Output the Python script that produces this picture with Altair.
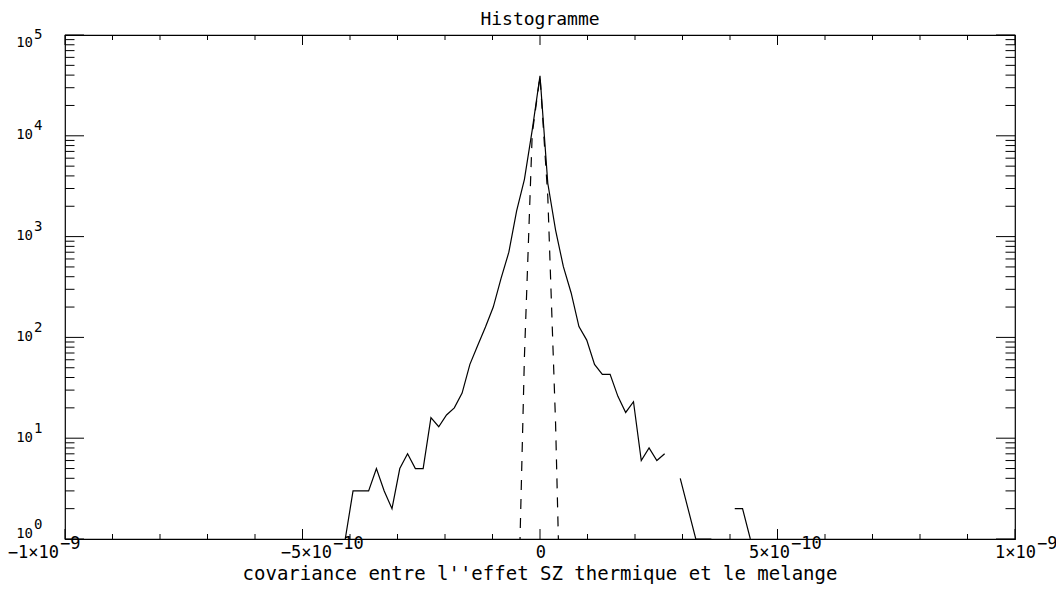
import altair as alt
import pandas as pd

# ---------------- data ----------------
# bin centres of the histogram, in units of 1e-10
bin_centres = [-4.100, -3.936, -3.772, -3.608, -3.444, -3.280, -3.116, -2.952, -2.788,
               -2.624, -2.460, -2.296, -2.132, -1.968, -1.804, -1.640, -1.476, -1.312,
               -1.148, -0.984, -0.820, -0.656, -0.492, -0.328, -0.164, 0.000, 0.164,
               0.328, 0.492, 0.656, 0.820, 0.984, 1.148, 1.312, 1.476, 1.640, 1.804,
               1.968, 2.132, 2.296, 2.460, 2.624, 2.788, 2.952, 3.116, 3.280, 3.444,
               3.608, 3.772, 3.936, 4.100, 4.264, 4.428]
# counts (None = empty bin, not drawable on a log axis)
counts = [1, 3, 3, 3, 5, 3, 2, 5, 7,
          5, 5, 16, 13, 17, 20, 28, 54, 83,
          127, 200, 385, 700, 1800, 3700, 11400, 39400, 3380,
          1160, 503, 276, 128, 94, 54, 43, 43, 26, 18,
          23, 6, 8, 6, 7, None, 4, 2, 1, 1,
          1, None, None, 2, 2, 1]

# narrow (dashed) reference distribution
model_x = [-0.492, -0.328, -0.164, 0.000, 0.164, 0.328, 0.492]
model_y = [0.04, 64, 10400, 39000, 2500, 14, 0.009]

# axis ticks and labels
x_major = [-10, -5, 0, 5, 10]
x_minor = [v for v in range(-9, 10) if v not in (-5, 0, 5)]
x_base = ["−1×10", "−5×10", "0", "5×10", "1×10"]
x_exp = ["−9", "−10", "", "−10", "−9"]
y_major = [1, 10, 100, 1000, 10000, 100000]
y_minor = [m * 10 ** e for e in range(5) for m in range(2, 10)]
y_exp = ["0", "1", "2", "3", "4", "5"]

TITLE = "Histogramme"
XTITLE = "covariance entre l''effet SZ thermique et le melange"

# ---------------- layout / style ----------------
W, H = 950, 504
FONT = "DejaVu Sans Mono"
LFS = 17
YFS = 14
x_label_dx = [-6, 29.5, 6, 12.5, 21]

xs = alt.Scale(domain=[-10, 10], nice=False, zero=False)
ys = alt.Scale(type="log", domain=[1, 100000], nice=False)

rows = []
seg = 0
for xv, c in zip(bin_centres, counts):
    if c is None:
        seg += 1
        continue
    rows.append({"x": xv, "n": c, "seg": seg})
hist = pd.DataFrame(rows)
model = pd.DataFrame({"x": model_x, "n": model_y})

solid = alt.Chart(hist).mark_line(color="black", strokeWidth=1.2, clip=True).encode(
    x=alt.X("x:Q", scale=xs, axis=None),
    y=alt.Y("n:Q", scale=ys, axis=None),
    detail="seg:N",
)
dashed = alt.Chart(model).mark_line(color="black", strokeWidth=1.2, strokeDash=[10, 9], clip=True).encode(
    x=alt.X("x:Q", scale=xs, axis=None),
    y=alt.Y("n:Q", scale=ys, axis=None),
)


def xticks(vals, y0, y1):
    return alt.Chart(pd.DataFrame({"v": vals})).mark_rule(color="black", strokeWidth=1).encode(
        x=alt.X("v:Q", scale=xs, axis=None), y=alt.value(y0), y2=alt.value(y1))


def yticks(vals, x0, x1):
    return alt.Chart(pd.DataFrame({"v": vals})).mark_rule(color="black", strokeWidth=1).encode(
        y=alt.Y("v:Q", scale=ys, axis=None), x=alt.value(x0), x2=alt.value(x1))


ticks = [
    xticks(x_major, H, H - 10), xticks(x_minor, H, H - 5),
    xticks(x_major, 0, 10), xticks(x_minor, 0, 5),
    yticks(y_major, 0, 19), yticks(y_minor, 0, 9.5),
    yticks(y_major, W, W - 19), yticks(y_minor, W, W - 9.5),
]

labels = []
for v, b, e, dx in zip(x_major, x_base, x_exp, x_label_dx):
    d = pd.DataFrame({"v": [v], "b": [b], "e": [e]})
    labels.append(alt.Chart(d).mark_text(align="right", baseline="alphabetic", font=FONT,
                                         fontSize=LFS, dx=dx, color="black").encode(
        x=alt.X("v:Q", scale=xs, axis=None), y=alt.value(H + 18.5), text="b:N"))
    if e:
        labels.append(alt.Chart(d).mark_text(align="left", baseline="alphabetic", font=FONT,
                                             fontSize=LFS, dx=dx + 1, color="black").encode(
            x=alt.X("v:Q", scale=xs, axis=None), y=alt.value(H + 9.5), text="e:N"))

yl = pd.DataFrame({"v": y_major, "b": ["10"] * 6, "e": y_exp})
# the end labels are nudged inside the frame height
for sel, dyb, dye in [((alt.datum.v > 1) & (alt.datum.v < 100000), 3.5, -5.5),
                      (alt.datum.v >= 100000, 12, 3.5),
                      (alt.datum.v <= 1, -1, -10)]:
    labels.append(alt.Chart(yl).transform_filter(sel).mark_text(
        align="right", baseline="alphabetic", font=FONT, fontSize=YFS, dy=dyb, color="black").encode(
        y=alt.Y("v:Q", scale=ys, axis=None), x=alt.value(-32), text="b:N"))
    labels.append(alt.Chart(yl).transform_filter(sel).mark_text(
        align="left", baseline="alphabetic", font=FONT, fontSize=YFS, dy=dye, color="black").encode(
        y=alt.Y("v:Q", scale=ys, axis=None), x=alt.value(-31), text="e:N"))

texts = pd.DataFrame({"t": [TITLE, XTITLE], "ty": ["title", "xtitle"]})
title_t = alt.Chart(texts).transform_filter(alt.datum.ty == "title").mark_text(
    align="center", baseline="alphabetic", font=FONT, fontSize=18, color="black").encode(
    x=alt.value(W / 2), y=alt.value(-10), text="t:N")
xtitle_t = alt.Chart(texts).transform_filter(alt.datum.ty == "xtitle").mark_text(
    align="center", baseline="alphabetic", font=FONT, fontSize=19, color="black").encode(
    x=alt.value(W / 2), y=alt.value(H + 40.5), text="t:N")

chart = alt.layer(solid, dashed, *ticks, *labels, title_t, xtitle_t).properties(
    width=W, height=H,
    autosize=alt.AutoSizeParams(type="none"),
    padding={"left": 57, "top": 27, "right": 41, "bottom": 45},
).configure_view(stroke="black", strokeWidth=1.2)

chart.save("out.html", embed_options={"renderer": "svg", "actions": False})
